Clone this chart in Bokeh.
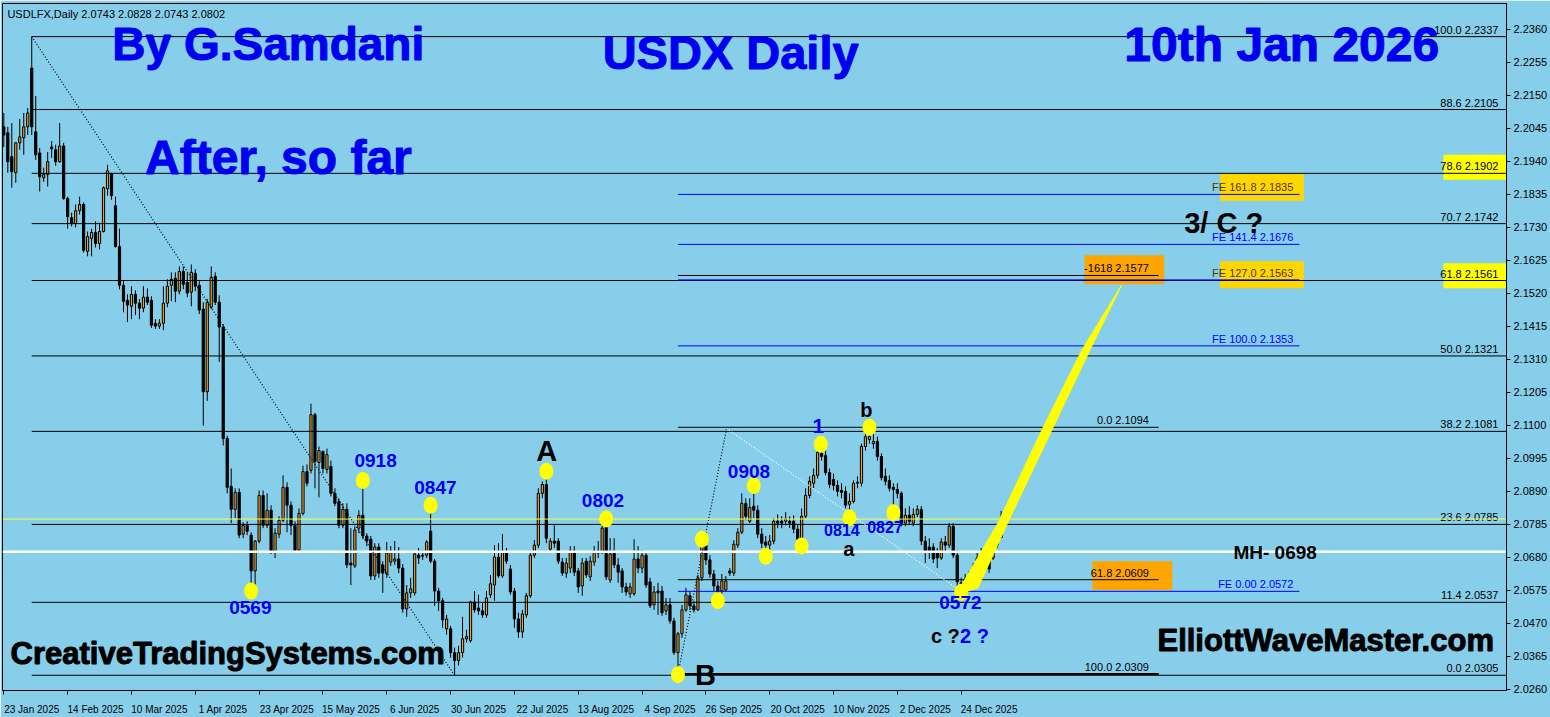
from bokeh.plotting import figure
from bokeh.models import (Range1d, FixedTicker, NumeralTickFormatter, LinearAxis, ColumnDataSource,
                          CustomLabelingPolicy)
from bokeh.embed import file_html
from bokeh.resources import INLINE
from bokeh.core.properties import value

# ---------------- data (USDLFX daily, bar index 0 = 23 Jan 2025) ----------------
opens = [
 2.2050,2.2031,2.1955,2.1904,2.1999,2.2015,2.2050,2.2237,2.2034,2.1967,
 2.1888,2.1898,2.1986,2.1977,2.1939,2.1989,2.1822,2.1761,2.1742,2.1783,
 2.1803,2.1654,2.1695,2.1714,2.1679,2.1717,2.1853,2.1901,2.1799,2.1669,
 2.1546,2.1498,2.1479,2.1517,2.1489,2.1473,2.1508,2.1498,2.1425,2.1416,
 2.1425,2.1489,2.1546,2.1568,2.1527,2.1590,2.1555,2.1524,2.1584,2.1546,
 2.1470,2.1207,2.1476,2.1574,2.1492,2.1413,2.1058,2.0906,2.0833,2.0887,
 2.0754,2.0782,2.0751,2.0637,2.0732,2.0877,2.0782,2.0830,2.0700,2.0754,
 2.0798,2.0903,2.0846,2.0782,2.0703,2.0820,2.0953,2.0957,2.1134,2.0982,
 2.1017,2.0960,2.0969,2.0884,2.0858,2.0782,2.0833,2.0662,2.0653,2.0773,
 2.0814,2.0748,2.0738,2.0621,2.0713,2.0656,2.0627,2.0665,2.0668,2.0675,
 2.0646,2.0516,2.0567,2.0567,2.0687,2.0687,2.0687,2.0763,2.0668,2.0573,
 2.0542,2.0453,2.0453,2.0377,2.0352,2.0377,2.0421,2.0415,2.0538,2.0519,
 2.0510,2.0497,2.0561,2.0592,2.0681,2.0621,2.0697,2.0643,2.0573,2.0484,
 2.0443,2.0497,2.0558,2.0687,2.0719,2.0884,2.0912,2.0706,2.0732,2.0732,
 2.0665,2.0630,2.0646,2.0700,2.0637,2.0589,2.0668,2.0618,2.0665,2.0700,
 2.0700,2.0776,2.0608,2.0694,2.0656,2.0637,2.0586,2.0564,2.0564,2.0675,
 2.0646,2.0687,2.0602,2.0529,2.0573,2.0573,2.0510,2.0529,2.0478,2.0377,
 2.0437,2.0513,2.0558,2.0526,2.0513,2.0615,2.0719,2.0672,2.0627,2.0589,
 2.0573,2.0576,2.0637,2.0630,2.0719,2.0760,2.0852,2.0795,2.0843,2.0830,
 2.0754,2.0729,2.0719,2.0732,2.0795,2.0795,2.0795,2.0795,2.0795,2.0770,
 2.0738,2.0811,2.0877,2.0916,2.0941,2.1011,2.1004,2.0950,2.0928,2.0909,
 2.0893,2.0890,2.0849,2.0858,2.0916,2.0916,2.1033,2.1055,2.1042,2.1049,
 2.1001,2.0938,2.0925,2.0903,2.0896,2.0884,2.0789,2.0814,2.0789,2.0817,
 2.0833,2.0732,2.0713,2.0713,2.0697,2.0678,2.0729,2.0719,2.0779,2.0687,
 2.0596,2.0596,2.0611,2.0596,2.0646,2.0668,2.0649,2.0681,2.0678,2.0719,
 2.0743]
highs = [
 2.2094,2.2050,2.2062,2.2002,2.2075,2.2094,2.2110,2.2337,2.2148,2.1983,
 2.1920,2.1970,2.2005,2.1993,2.2062,2.1999,2.1828,2.1777,2.1803,2.1828,
 2.1809,2.1717,2.1726,2.1749,2.1745,2.1860,2.1929,2.1904,2.1828,2.1726,
 2.1562,2.1517,2.1543,2.1530,2.1502,2.1543,2.1536,2.1511,2.1438,2.1438,
 2.1543,2.1565,2.1587,2.1587,2.1606,2.1606,2.1587,2.1612,2.1597,2.1559,
 2.1492,2.1502,2.1606,2.1587,2.1514,2.1422,2.1067,2.0963,2.0900,2.0900,
 2.0792,2.0795,2.0760,2.0735,2.0893,2.0893,2.0884,2.0846,2.0773,2.0811,
 2.0941,2.0919,2.0858,2.0795,2.0836,2.0972,2.0976,2.1169,2.1140,2.1033,
 2.1020,2.1026,2.0988,2.0900,2.0868,2.0852,2.0852,2.0773,2.0779,2.0830,
 2.0918,2.0757,2.0748,2.0725,2.0725,2.0668,2.0729,2.0716,2.0732,2.0713,
 2.0659,2.0592,2.0615,2.0700,2.0710,2.0703,2.0735,2.0847,2.0675,2.0583,
 2.0551,2.0497,2.0462,2.0393,2.0399,2.0491,2.0450,2.0542,2.0573,2.0561,
 2.0535,2.0573,2.0624,2.0719,2.0725,2.0754,2.0710,2.0656,2.0583,2.0504,
 2.0513,2.0567,2.0700,2.0735,2.0900,2.0922,2.0954,2.0741,2.0782,2.0741,
 2.0678,2.0678,2.0716,2.0716,2.0646,2.0678,2.0678,2.0684,2.0716,2.0732,
 2.0786,2.0802,2.0741,2.0741,2.0678,2.0646,2.0599,2.0599,2.0738,2.0716,
 2.0703,2.0700,2.0615,2.0589,2.0599,2.0589,2.0551,2.0551,2.0488,2.0443,
 2.0529,2.0583,2.0573,2.0542,2.0624,2.0748,2.0725,2.0687,2.0640,2.0605,
 2.0627,2.0621,2.0646,2.0735,2.0773,2.0884,2.0868,2.0868,2.0908,2.0846,
 2.0773,2.0748,2.0751,2.0805,2.0817,2.0811,2.0824,2.0811,2.0814,2.0786,
 2.0836,2.0900,2.0938,2.0963,2.1052,2.1036,2.1020,2.0963,2.0947,2.0925,
 2.0916,2.0906,2.0884,2.0925,2.0938,2.1042,2.1090,2.1094,2.1074,2.1064,
 2.1011,2.0963,2.0941,2.0916,2.0916,2.0890,2.0836,2.0843,2.0836,2.0846,
 2.0843,2.0748,2.0741,2.0725,2.0710,2.0741,2.0748,2.0789,2.0789,2.0703,
 2.0615,2.0627,2.0637,2.0662,2.0694,2.0710,2.0694,2.0700,2.0732,2.0763,
 2.0828]
lows = [
 2.1986,2.1904,2.1856,2.1872,2.1977,2.1961,2.2024,2.2024,2.1945,2.1844,
 2.1875,2.1860,2.1951,2.1926,2.1936,2.1818,2.1726,2.1733,2.1730,2.1771,
 2.1650,2.1638,2.1638,2.1666,2.1660,2.1714,2.1831,2.1818,2.1666,2.1533,
 2.1460,2.1429,2.1438,2.1451,2.1438,2.1460,2.1483,2.1410,2.1407,2.1407,
 2.1403,2.1476,2.1495,2.1492,2.1517,2.1533,2.1508,2.1479,2.1527,2.1454,
 2.1099,2.1178,2.1470,2.1483,2.1302,2.1036,2.0884,2.0789,2.0805,2.0741,
 2.0741,2.0751,2.0569,2.0575,2.0725,2.0773,2.0773,2.0691,2.0678,2.0741,
 2.0792,2.0760,2.0751,2.0694,2.0700,2.0814,2.0906,2.0947,2.0900,2.0871,
 2.0947,2.0947,2.0874,2.0843,2.0773,2.0773,2.0646,2.0592,2.0646,2.0757,
 2.0738,2.0716,2.0608,2.0608,2.0615,2.0567,2.0615,2.0653,2.0656,2.0630,
 2.0504,2.0491,2.0551,2.0558,2.0659,2.0672,2.0678,2.0662,2.0526,2.0510,
 2.0456,2.0434,2.0361,2.0305,2.0336,2.0361,2.0409,2.0409,2.0504,2.0497,
 2.0488,2.0488,2.0551,2.0542,2.0615,2.0615,2.0659,2.0561,2.0456,2.0424,
 2.0424,2.0488,2.0551,2.0678,2.0710,2.0868,2.0725,2.0694,2.0710,2.0659,
 2.0621,2.0615,2.0630,2.0621,2.0567,2.0558,2.0615,2.0605,2.0653,2.0678,
 2.0691,2.0608,2.0599,2.0646,2.0599,2.0567,2.0558,2.0551,2.0558,2.0630,
 2.0630,2.0583,2.0519,2.0513,2.0497,2.0494,2.0497,2.0469,2.0370,2.0309,
 2.0424,2.0507,2.0513,2.0504,2.0510,2.0605,2.0656,2.0615,2.0573,2.0542,
 2.0564,2.0570,2.0621,2.0621,2.0710,2.0754,2.0798,2.0789,2.0805,2.0741,
 2.0710,2.0691,2.0703,2.0722,2.0773,2.0773,2.0782,2.0773,2.0757,2.0719,
 2.0710,2.0805,2.0868,2.0900,2.0931,2.0988,2.0941,2.0900,2.0893,2.0874,
 2.0868,2.0836,2.0814,2.0852,2.0900,2.0906,2.1020,2.1042,2.1026,2.0988,
 2.0925,2.0909,2.0890,2.0827,2.0868,2.0779,2.0779,2.0786,2.0779,2.0808,
 2.0719,2.0662,2.0675,2.0662,2.0646,2.0672,2.0700,2.0710,2.0678,2.0589,
 2.0572,2.0583,2.0589,2.0589,2.0637,2.0659,2.0637,2.0630,2.0672,2.0710,
 2.0743]
closes = [
 2.2024,2.1939,2.1907,2.1999,2.2018,2.2050,2.2094,2.2050,2.1961,2.1891,
 2.1898,2.1939,2.1980,2.1939,2.1989,2.1822,2.1764,2.1742,2.1783,2.1803,
 2.1657,2.1701,2.1714,2.1679,2.1717,2.1856,2.1910,2.1831,2.1669,2.1546,
 2.1495,2.1483,2.1517,2.1489,2.1473,2.1508,2.1492,2.1419,2.1416,2.1425,
 2.1489,2.1543,2.1565,2.1527,2.1590,2.1549,2.1521,2.1587,2.1543,2.1467,
 2.1207,2.1492,2.1571,2.1492,2.1413,2.1058,2.0903,2.0833,2.0887,2.0751,
 2.0782,2.0763,2.0637,2.0732,2.0877,2.0782,2.0830,2.0700,2.0757,2.0798,
 2.0903,2.0846,2.0782,2.0703,2.0820,2.0953,2.0916,2.1134,2.0985,2.1020,
 2.0963,2.1007,2.0884,2.0852,2.0782,2.0833,2.0656,2.0656,2.0767,2.0814,
 2.0748,2.0732,2.0621,2.0713,2.0630,2.0630,2.0694,2.0700,2.0675,2.0646,
 2.0516,2.0567,2.0580,2.0691,2.0678,2.0684,2.0729,2.0668,2.0573,2.0542,
 2.0481,2.0484,2.0377,2.0352,2.0377,2.0421,2.0428,2.0538,2.0513,2.0510,
 2.0497,2.0551,2.0596,2.0681,2.0621,2.0697,2.0668,2.0570,2.0484,2.0443,
 2.0500,2.0558,2.0687,2.0719,2.0884,2.0912,2.0741,2.0732,2.0725,2.0668,
 2.0630,2.0662,2.0700,2.0633,2.0586,2.0662,2.0624,2.0668,2.0700,2.0694,
 2.0773,2.0618,2.0691,2.0656,2.0633,2.0586,2.0570,2.0586,2.0675,2.0646,
 2.0687,2.0592,2.0526,2.0570,2.0567,2.0504,2.0529,2.0478,2.0377,2.0437,
 2.0513,2.0561,2.0526,2.0513,2.0615,2.0719,2.0672,2.0627,2.0589,2.0573,
 2.0605,2.0605,2.0630,2.0722,2.0760,2.0852,2.0811,2.0839,2.0830,2.0754,
 2.0725,2.0719,2.0732,2.0795,2.0789,2.0789,2.0802,2.0789,2.0770,2.0738,
 2.0811,2.0877,2.0922,2.0941,2.1014,2.1001,2.0950,2.0912,2.0909,2.0890,
 2.0887,2.0846,2.0858,2.0916,2.0919,2.1033,2.1064,2.1064,2.1049,2.1001,
 2.0934,2.0922,2.0900,2.0896,2.0884,2.0789,2.0814,2.0795,2.0817,2.0833,
 2.0732,2.0697,2.0697,2.0675,2.0678,2.0729,2.0719,2.0779,2.0687,2.0602,
 2.0599,2.0611,2.0605,2.0646,2.0678,2.0678,2.0675,2.0643,2.0719,2.0748,
 2.0802]

date_idx = [0, 16, 32, 48, 64, 80, 96, 112, 128, 144, 160, 176, 192, 208, 224, 240]
date_labels = ["23 Jan 2025", "14 Feb 2025", "10 Mar 2025", "1 Apr 2025", "23 Apr 2025",
               "15 May 2025", "6 Jun 2025", "30 Jun 2025", "22 Jul 2025", "13 Aug 2025",
               "4 Sep 2025", "26 Sep 2025", "20 Oct 2025", "10 Nov 2025", "2 Dec 2025", "24 Dec 2025"]
price_ticks = [2.2360, 2.2255, 2.2150, 2.2045, 2.1940, 2.1835, 2.1730, 2.1625, 2.1520, 2.1415,
               2.1310, 2.1205, 2.1100, 2.0995, 2.0890, 2.0785, 2.0680, 2.0575, 2.0470, 2.0365, 2.0260]

# Fibonacci retracement 2.2337 -> 2.0305
fib_pct = ["100.0", "88.6", "78.6", "70.7", "61.8", "50.0", "38.2", "23.6", "11.4", "0.0"]
fib_price = [2.2337, 2.2105, 2.1902, 2.1742, 2.1561, 2.1321, 2.1081, 2.0785, 2.0537, 2.0305]
# retracement b -> B
fib2_pct = ["-1618", "0.0", "61.8", "100.0"]
fib2_price = [2.1577, 2.1094, 2.0609, 2.0309]
# Fibonacci expansion
fe_pct = ["FE 161.8", "FE 141.4", "FE 127.0", "FE 100.0", "FE 0.00"]
fe_price = [2.1835, 2.1676, 2.1563, 2.1353, 2.0572]

# swing marks (bar index, price)
dot_x = [62, 90, 107, 136, 151, 169, 175, 179, 188, 191, 200, 204.8, 212, 217, 223, 240]
dot_y = [2.0573, 2.0925, 2.0846, 2.0954, 2.0802, 2.0307, 2.0738, 2.0542, 2.0909, 2.0684,
         2.0716, 2.1040, 2.0806, 2.1094, 2.0822, 2.0569]
num_text = ["0569", "0918", "0847", "0802", "0908", "0572"]
num_x = [61.8, 93.2, 108.2, 150.2, 186.8, 239.8]
num_y = [2.0497, 2.0966, 2.0881, 2.0839, 2.0931, 2.0513]
small_text = ["0814", "0827"]
small_x = [210.1, 220.9]
small_y = [2.0748, 2.0757]

mh_level = 2.0698
bid_level = 2.0802

# projection wedge (bar index, price)
wedge_x = [238.7, 249.2, 260.4, 270.4, 280.2, 272.4, 262.9, 252.2, 244.2]
wedge_y = [2.0561, 2.0789, 2.1090, 2.1343, 2.1546, 2.1343, 2.1090, 2.0805, 2.0583]

# ---------------- figure ----------------
BG = "#87CEEB"
XMIN, XMAX = -0.33, 376.7
p = figure(width=1550, height=717, output_backend="svg", toolbar_location=None,
           x_range=Range1d(XMIN, XMAX), y_range=Range1d(2.02565, 2.24424),
           y_axis_location="right", min_border_left=2, min_border_top=3,
           min_border_right=0, min_border_bottom=0)
p.background_fill_color = BG
p.border_fill_color = BG
p.outline_line_color = "black"
p.xgrid.visible = False
p.ygrid.visible = False

for ax in (p.xaxis[0], p.yaxis[0]):
    ax.axis_line_color = "black"
    ax.major_tick_line_color = "black"
    ax.major_tick_in = 0
    ax.major_tick_out = 4
    ax.minor_tick_line_color = None
    ax.major_label_text_font = "Liberation Sans"
    ax.major_label_text_font_size = "11px"
    ax.major_label_text_color = "black"
    ax.major_label_standoff = 3

p.yaxis.ticker = FixedTicker(ticks=price_ticks)
p.yaxis.formatter = NumeralTickFormatter(format="0.0000")

# date axis: tick marks at the bars (labels hidden), labels written just right of each tick
p.xaxis.ticker = FixedTicker(ticks=date_idx)
p.xaxis.major_label_policy = CustomLabelingPolicy(code="for (const i of indices) { indices.unset(i) }")
p.xaxis.major_label_text_font_size = "1px"
p.xaxis.major_label_standoff = 0
lab_ticks = [i + 7 for i in date_idx]
ax2 = LinearAxis(ticker=FixedTicker(ticks=lab_ticks),
                 major_label_overrides={t: s for t, s in zip(lab_ticks, date_labels)},
                 axis_line_color=None, major_tick_line_color=None, minor_tick_line_color=None,
                 major_tick_in=0, major_tick_out=0,
                 major_label_text_font="Liberation Sans", major_label_text_font_size="10px",
                 major_label_text_color="black", major_label_standoff=5)
p.add_layout(ax2, "below")

F = value("Liberation Sans")

# coloured boxes behind level labels
p.quad(left=[360.9, 360.9], right=[XMAX, XMAX], bottom=[2.1882, 2.1536], top=[2.1961, 2.1616],
       fill_color="#FFFF00", line_color=None)
p.quad(left=[304.9, 304.9], right=[325.9, 325.9], bottom=[2.1815, 2.1536], top=[2.1901, 2.1622],
       fill_color="#FFD700", line_color=None)
p.quad(left=[270.9, 272.9], right=[290.9, 292.9], bottom=[2.1549, 2.0576], top=[2.1641, 2.0668],
       fill_color="#FFA500", line_color=None)

# candles
idx = list(range(len(closes)))
up = [c >= o for o, c in zip(opens, closes)]
src = ColumnDataSource(dict(
    x=idx, o=opens, h=highs, l=lows, c=closes,
    top=[max(o, c) for o, c in zip(opens, closes)],
    bot=[min(o, c) for o, c in zip(opens, closes)],
    fill=["#F0A020" if u else "black" for u in up]))
p.segment(x0="x", y0="h", x1="x", y1="l", source=src, line_color="black", line_width=1)
p.vbar(x="x", width=0.55, top="top", bottom="bot", source=src, fill_color="fill",
       line_color="black", line_width=1)

# fib lines
n = len(fib_price)
p.segment(x0=[7] * n, y0=fib_price, x1=[XMAX] * n, y1=fib_price, line_color="black", line_width=1)
p.text(x=[376.2] * n, y=fib_price, text=[f"{a}   {b:.4f}" for a, b in zip(fib_pct, fib_price)],
       text_font=F, text_font_size="11px", text_color="black", text_align="right",
       text_baseline="bottom", y_offset=-1)
m = len(fib2_price)
p.segment(x0=[169] * m, y0=fib2_price, x1=[289.5] * m, y1=fib2_price, line_color="black", line_width=1)
p.segment(x0=[169], y0=[fib2_price[3]], x1=[289.5], y1=[fib2_price[3]], line_color="black", line_width=2)
p.text(x=[288.6] * m, y=fib2_price, text=[f"{a}   {b:.4f}" for a, b in zip(fib2_pct, fib2_price)],
       text_font=F, text_font_size="11px", text_color="black", text_align="right",
       text_baseline="bottom", y_offset=-1)
k = len(fe_price)
p.segment(x0=[169] * k, y0=fe_price, x1=[324.8] * k, y1=fe_price, line_color="#0000FF", line_width=1)
fe_cols = ["#5a3300", "#0000FF", "#5a3300", "#0000FF", "#0000FF"]
p.text(x=[324.8] * k, y=fe_price, text=[f"{a}   {b:.4f}" for a, b in zip(fe_pct, fe_price)],
       text_font=F, text_font_size="11px", text_color=fe_cols, text_align="right",
       text_baseline="bottom", y_offset=-1)

# current price / MH lines
p.segment(x0=[XMIN], y0=[bid_level], x1=[XMAX], y1=[bid_level], line_color="#FFFF40", line_width=1)
p.segment(x0=[XMIN], y0=[mh_level], x1=[XMAX], y1=[mh_level], line_color="white", line_width=2.5)

# dotted trend lines
p.segment(x0=[7, 169], y0=[2.2337, 2.0309], x1=[113, 181.2], y1=[2.0305, 2.1090],
          line_color="black", line_dash="1 2", line_width=1.2)
p.segment(x0=[181.2], y0=[2.1090], x1=[240], y1=[2.0572],
          line_color="white", line_dash="1 2", line_width=1.2)

# projection wedge
p.patch(wedge_x, wedge_y, fill_color="#FFFF00", line_color="#FFFF00", line_width=1)

# swing dots
p.ellipse(x=dot_x, y=dot_y, width=14, height=17, width_units="screen", height_units="screen",
          fill_color="#FFFF00", line_color=None)

# text helper: alphabetic baseline with a small upward correction proportional to size
def lab(x, y, t, size, color, align="center", outline=None, k=0.36):
    px = int(size.replace("px", ""))
    p.text(x=x if isinstance(x, list) else [x], y=y if isinstance(y, list) else [y],
           text=t if isinstance(t, list) else [t], text_font=F, text_font_style="bold",
           text_font_size=size, text_color=color, text_align=align, text_baseline="alphabetic",
           text_outline_color=outline, y_offset=-round(k * px))

BL = "#0000F0"
# blue swing numbers
lab(num_x, num_y, num_text, "19px", BL)
lab(small_x, small_y, small_text, "16px", BL)

# wave labels
lab(136.1, 2.0988, "A", "29px", "black")
lab(175.9, 2.0273, "B", "29px", "black")
lab(216.2, 2.1128, "b", "20px", "black")
lab(211.8, 2.0684, "a", "20px", "black")
lab(204.2, 2.1074, "1", "21px", BL)
lab(232.4, 2.0409, "c ?", "20px", "black", "left")
lab(239.7, 2.0409, "2 ?", "20px", BL, "left")
lab(295.9, 2.1712, "3/ C ?", "29px", "black", "left")
lab(318.7, 2.06746, "MH- 0698", "19px", "black")

# headline texts
lab(27.2, 2.22713, "By G.Samdani", "46px", BL, "left", BL, 0.29)
lab(182.2, 2.22428, "USDX Daily", "47px", BL, "center", BL, 0.29)
lab(280.9, 2.22681, "10th Jan 2026", "48px", BL, "left", BL, 0.29)
lab(35.4, 2.19070, "After, so far", "48px", BL, "left", BL, 0.29)
lab(1.7, 2.03452, "CreativeTradingSystems.com", "31px", "black", "left", "black", 0.3)
lab(289.2, 2.03864, "ElliottWaveMaster.com", "31px", "black", "left", "black", 0.3)
p.text(x=[0.9], y=[2.2401], text=["USDLFX,Daily  2.0743 2.0828 2.0743 2.0802"], text_font=F,
       text_font_size="11px", text_color="black", text_align="left", text_baseline="alphabetic",
       y_offset=-3)

open("out.html", "w").write(file_html(p, INLINE))
